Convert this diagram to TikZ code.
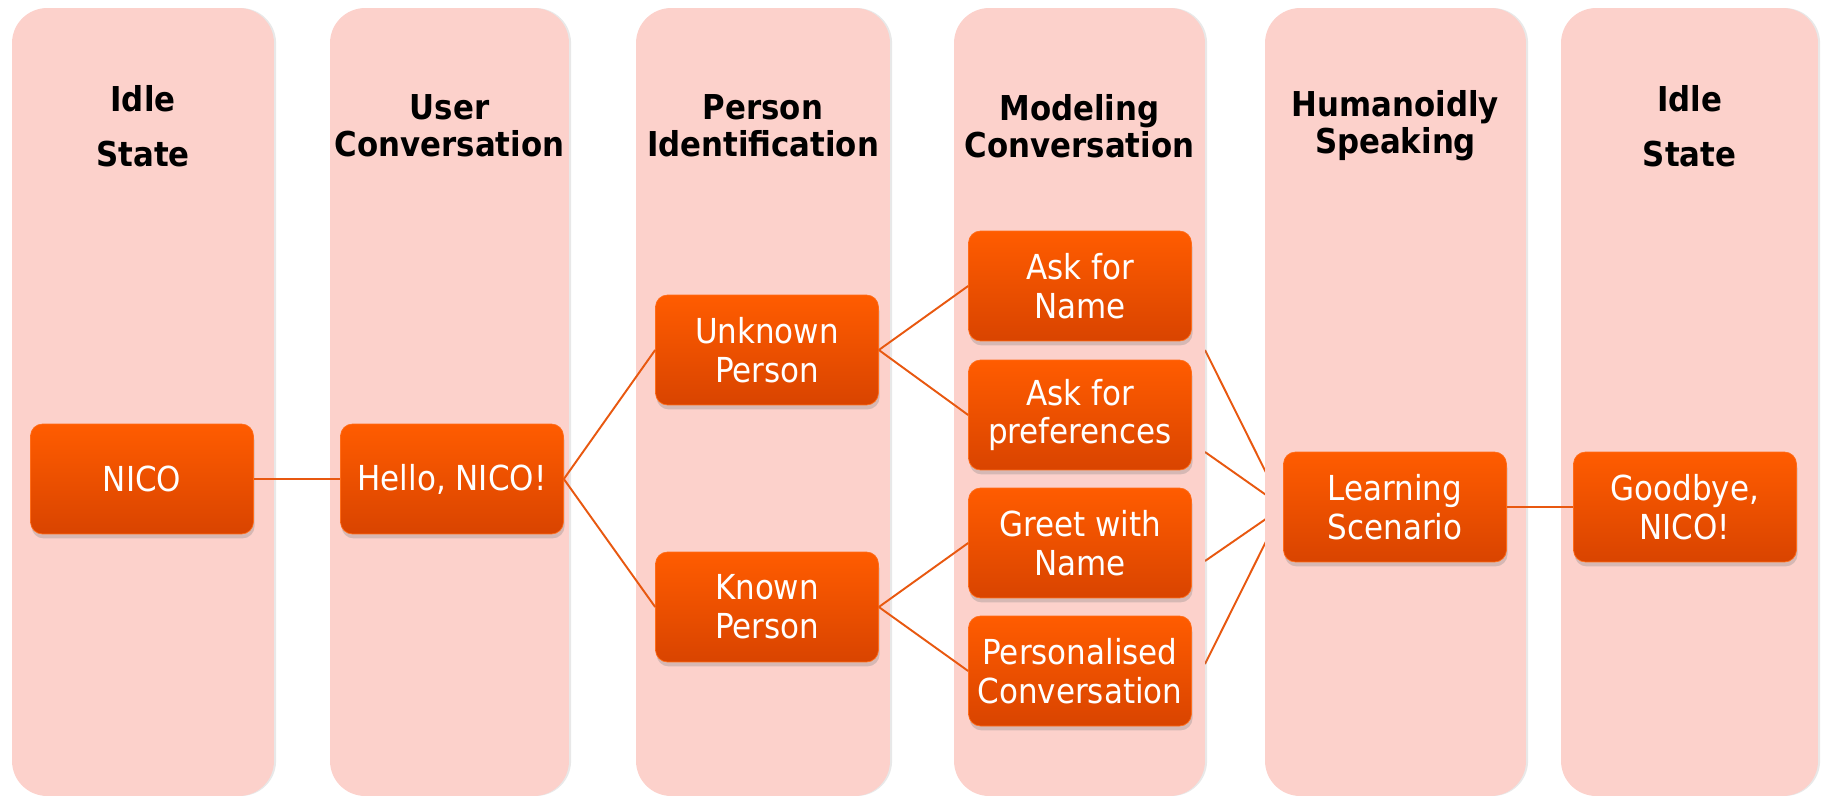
\documentclass[tikz,border=0pt]{standalone}
\usepackage{fontspec}
\setmainfont{DejaVu Sans Condensed}
\usetikzlibrary{positioning,shadows,backgrounds}
\definecolor{lane}{RGB}{252,209,203}
\definecolor{boxtop}{RGB}{255,92,0}
\definecolor{boxbot}{RGB}{217,68,0}
\definecolor{wire}{RGB}{232,88,16}
\pgfdeclarelayer{behind}
\pgfsetlayers{behind,background,main}
\tikzset{>=latex,
    lane/.style={fill=lane, rounded corners=0.7cm, inner sep=0pt, minimum height=15.76cm,
        drop shadow={shadow xshift=1.2pt, shadow yshift=0pt, opacity=0.18}},
    head/.style={align=center, font=\fontsize{19.5}{21}\selectfont\bfseries},
    stepbox/.style={rounded corners=0.24cm, top color=boxtop, bottom color=boxbot, draw=boxtop!90!white,
        minimum width=4.46cm, minimum height=2.2cm, inner sep=0pt, align=center, text=white,
        font=\fontsize{19.6}{22}\selectfont,
        drop shadow={shadow xshift=0.6pt, shadow yshift=-2.5pt, opacity=0.3}},
    wire/.style={draw=wire, line width=1.1pt}
}

\begin{document}
\begin{tikzpicture}[x=0.02cm, y=-0.02cm]
    \useasboundingbox (0,0) rectangle (1822,798);

    \begin{scope}[on background layer]
        \node[lane, minimum width=5.24cm] (p1) at (143,402) {};
        \node[lane, minimum width=4.78cm] (p2) at (449.5,402) {};
        \node[lane, minimum width=5.08cm] (p3) at (763,402) {};
        \node[lane, minimum width=5.02cm] (p4) at (1079.5,402) {};
        \node[lane, minimum width=5.22cm] (p5) at (1395.5,402) {};
        \node[lane, minimum width=5.14cm] (p6) at (1689.5,402) {};
    \end{scope}

    \node[head] (t1) at (143,126) {Idle\\[10pt]State};
    \node[head] (t2) at (449.5,126) {User\\Conversation};
    \node[head] (t3) at (763,126) {Person\\Identification};
    \node[head] (t4) at (1079.5,126) {Modeling\\Conversation};
    \node[head] (t5) at (1395.5,126) {Humanoidly\\Speaking};
    \node[head] (t6) at (1689.5,126) {Idle\\[10pt]State};

    \node[stepbox] (nico) at (142,479) {NICO};
    \node[stepbox] (hello) at (452,479) {Hello, NICO!};
    \node[stepbox] (unknown) at (767,350) {Unknown\\Person};
    \node[stepbox] (known) at (767,607) {Known\\Person};
    \node[stepbox] (askname) at (1080,286) {Ask for\\Name};
    \node[stepbox] (askpref) at (1080,415) {Ask for\\preferences};
    \node[stepbox] (greet) at (1080,543) {Greet with\\Name};
    \node[stepbox] (personal) at (1080,671) {Personalised\\Conversation};
    \node[stepbox] (learn) at (1395,507) {Learning\\Scenario};
    \node[stepbox] (bye) at (1685,507) {Goodbye,\\NICO!};

    \draw[wire] (nico) -- (hello);
    \draw[wire] (hello.east) -- (unknown.west);
    \draw[wire] (hello.east) -- (known.west);
    \draw[wire] (unknown.east) -- (askname.west);
    \draw[wire] (unknown.east) -- (askpref.west);
    \draw[wire] (known.east) -- (greet.west);
    \draw[wire] (known.east) -- (personal.west);
    \draw[wire] (learn) -- (bye);

    % fan into the learning box, hidden under the lanes
    \coordinate (f1) at (1205,350);
    \coordinate (f2) at (1205,452);
    \coordinate (f3) at (1205,561);
    \coordinate (f4) at (1205,664);
    \begin{pgfonlayer}{behind}
        \draw[wire] (f1) -- (learn.west);
        \draw[wire] (f2) -- (learn.west);
        \draw[wire] (f3) -- (learn.west);
        \draw[wire] (f4) -- (learn.west);
    \end{pgfonlayer}
\end{tikzpicture}
\end{document}
